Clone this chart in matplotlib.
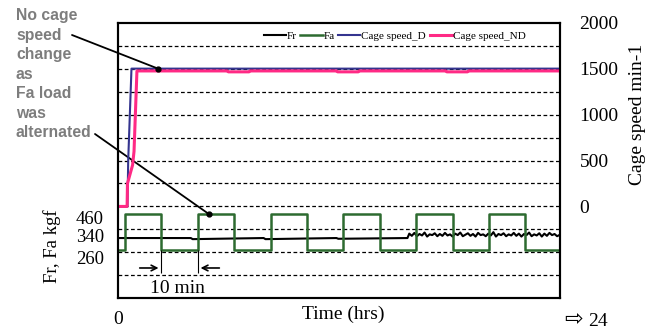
import matplotlib.pyplot as plt
from matplotlib.transforms import ScaledTranslation

plt.rcParams['font.family'] = ['Liberation Serif', 'DejaVu Sans']

# time in minutes from start of the run
T_END = 121.4

# Fa load (kgf), square wave alternating every 10 min
fa_time = [0, 1.9, 11.9, 21.9, 31.9, 41.9, 51.9, 61.9, 71.9, 81.9, 91.9, 101.9, 111.9, T_END]
fa_load = [265, 458, 262, 458, 265, 458, 265, 458, 265, 458, 265, 458, 265, 265]

# Fr load (kgf), steady then noisy in the last part
fr_time = [0, 20, 20.5, 40, 40.5, 60, 60.5, 79.5,
           80.0, 80.7, 81.4, 82.1, 82.8, 83.5, 84.2, 84.9, 85.6, 86.3, 87.0, 87.7,
           88.4, 89.1, 89.8, 90.5, 91.2, 91.9, 92.6, 93.3, 94.0, 94.7, 95.4, 96.1,
           96.8, 97.5, 98.2, 98.9, 99.6, 100.3, 101.0, 101.7, 102.4, 103.1, 103.8,
           104.5, 105.2, 105.9, 106.6, 107.3, 108.0, 108.7, 109.4, 110.1, 110.8,
           111.5, 112.2, 112.9, 113.6, 114.3, 115.0, 115.7, 116.4, 117.1, 117.8,
           118.5, 119.2, 119.9, 120.6, T_END]
fr_load = [328, 328, 322, 328, 322, 328, 324, 328,
           352, 340, 356, 338, 350, 342, 358, 336, 348, 344, 354, 338,
           350, 340, 356, 342, 348, 336, 352, 344, 358, 338, 346, 354,
           340, 350, 336, 356, 344, 348, 338, 352, 342, 360, 336, 350,
           344, 354, 338, 348, 342, 356, 340, 352, 336, 350, 344, 358,
           338, 348, 342, 354, 336, 352, 340, 356, 344, 350, 338, 346]

# cage speed (min-1)
speed_d_time = [0, 2.6, 2.8, 3.7, T_END]
speed_d = [0, 0, 500, 1500, 1500]
speed_nd_time = [0, 2.5, 2.6, 4.0, 4.4, 5.2, 30, 30.3, 36, 36.3, 60, 60.3, 66, 66.3, 90, 90.3, 96, 96.3, T_END]
speed_nd = [0, 0, 250, 450, 600, 1475, 1475, 1465, 1465, 1475, 1475, 1465, 1465, 1475, 1475, 1465, 1465, 1475, 1475]

left_ticks = [460, 340, 260]

fig = plt.figure(figsize=(6.6, 3.29), dpi=100)
ax = fig.add_axes([0.1788, 0.0933, 0.6697, 0.8377])
ax2 = ax.twinx()

ax.set_xlim(0, T_END)
ax.set_ylim(0, 1500)
ax2.set_ylim(-1000, 2000)

# dashed grid at every 125 kgf
ax.set_yticks(range(125, 1500, 125), minor=True)
ax.yaxis.grid(True, which='minor', linestyle=(0, (3, 2)), color='black', linewidth=0.9)
ax.tick_params(axis='y', which='minor', length=0)
ax.set_yticks(left_ticks)
ax.tick_params(axis='y', which='major', length=0, pad=10, labelsize=13.5)
for lab, dy in zip(ax.get_yticklabels(), [-3, 0, -5]):
    lab.set_transform(lab.get_transform() + ScaledTranslation(0, dy / 72, fig.dpi_scale_trans))

ax2.set_yticks([0, 500, 1000, 1500, 2000])
ax2.tick_params(axis='y', length=0, pad=14, labelsize=14)

ax.set_xticks([0])
ax.tick_params(axis='x', length=0, pad=9, labelsize=14)

for sp in ax.spines.values():
    sp.set_linewidth(1.5)
for sp in ax2.spines.values():
    sp.set_linewidth(1.5)

l1, = ax.plot(fr_time, fr_load, color='black', linewidth=1.5, label='Fr')
l2, = ax.plot(fa_time, fa_load, color='#2d6b30', linewidth=1.8, drawstyle='steps-post', label='Fa')
l3, = ax2.plot(speed_d_time, speed_d, color='#34348f', linewidth=1.5, label='Cage speed_D')
l4, = ax2.plot(speed_nd_time, speed_nd, color='#ff2a85', linewidth=2.2, label='Cage speed_ND')

ax2.legend(handles=[l1, l2, l3, l4], loc='center right', bbox_to_anchor=(0.935, 0.953),
           frameon=False, ncol=4, fontsize=8, handlelength=2.0, handletextpad=0.1,
           columnspacing=0.3, borderpad=0)

# 10 min marker under the first low period
t_a = fa_time[2]
t_b = fa_time[3]
ax.vlines([t_a, t_b], 140, 262, color='black', linewidth=0.8)
ax.annotate('', xy=(t_a, 165), xytext=(t_a - 6.7, 165),
            arrowprops=dict(arrowstyle='->', color='black', lw=1.2))
ax.annotate('', xy=(t_b, 165), xytext=(t_b + 6.7, 165),
            arrowprops=dict(arrowstyle='->', color='black', lw=1.2))
ax.text((t_a + t_b) / 2 - 0.5, 56, '10 min', fontsize=14, ha='center', va='center')

# annotations
fig.text(16 / 660, 1 - 8 / 329, 'No cage\nspeed\nchange\nas\nFa load\nwas\nalternated',
         family='Liberation Sans', fontsize=11.3, fontweight='bold', color='#7d7d7d',
         ha='left', va='top', linespacing=1.38)
ax2.annotate('', xy=(11, 1500), xycoords='data', xytext=(72, 329 - 35),
             textcoords='figure pixels',
             arrowprops=dict(arrowstyle='-', color='black', lw=1.3, shrinkA=0, shrinkB=0))
ax2.plot([11], [1500], 'o', color='black', markersize=3.5)
ax.annotate('', xy=(25, 458), xycoords='data', xytext=(95, 329 - 134),
            textcoords='figure pixels',
            arrowprops=dict(arrowstyle='-', color='black', lw=1.3, shrinkA=0, shrinkB=0))
ax.plot([25], [458], 'o', color='black', markersize=3.5)

fig.text(343 / 660, 1 - 314 / 329, 'Time (hrs)', fontsize=14, ha='center', va='center')
fig.text(52 / 660, 1 - 246 / 329, 'Fr, Fa kgf', rotation=90, fontsize=13.5,
         ha='center', va='center')
fig.text(637 / 660, 1 - 114 / 329, 'Cage speed min-1', rotation=90, fontsize=14,
         ha='center', va='center')
fig.text(564 / 660, 1 - 318 / 329, '\u21e8', fontsize=16, ha='left', va='center',
         family='DejaVu Sans')
fig.text(588 / 660, 1 - 321 / 329, '24', fontsize=14, ha='left', va='center')

fig.savefig('out.png', dpi=100)
